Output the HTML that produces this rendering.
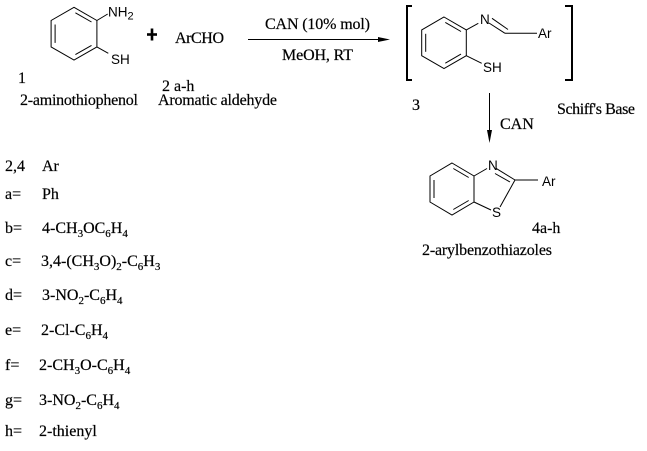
<!DOCTYPE html>
<html><head><meta charset="utf-8"><style>
html,body{margin:0;padding:0;background:#fff;}
svg{display:block;}
.t{font-family:"Liberation Serif",serif;font-size:16px;fill:#000;stroke:#000;stroke-width:0.2;}
.a{font-family:"Liberation Sans",sans-serif;font-size:13.5px;fill:#000;}
.s{font-size:11px;}
</style></head><body>
<svg width="647" height="451" viewBox="0 0 647 451" xmlns="http://www.w3.org/2000/svg">
<g stroke="#000" stroke-width="1" fill="none">
<!-- Ring A -->
<polygon points="74,7.3 96.9,20.5 96.9,46.9 74,60.1 51.1,46.9 51.1,20.5"/>
<line x1="55.1" y1="42.9" x2="55.1" y2="24.5"/>
<line x1="75.4" y1="12.8" x2="91.5" y2="22"/>
<line x1="91.5" y1="45.4" x2="75.4" y2="54.6"/>
<line x1="96.9" y1="20.5" x2="107.7" y2="14"/>
<line x1="96.9" y1="46.9" x2="108.3" y2="53.3"/>
<!-- Arrow 1 -->
<line x1="248" y1="39.5" x2="380" y2="39.5"/>
<!-- Brackets -->
<path d="M412,6 H407 V80 H412" stroke-width="2"/>
<path d="M565,6 H572 V80 H565" stroke-width="2"/>
<!-- Ring B -->
<polygon points="444,17 466.3,29.9 466.3,55.7 444,68.6 421.7,55.7 421.7,29.9"/>
<line x1="425.7" y1="51.8" x2="425.7" y2="33.8"/>
<line x1="445.3" y1="22.4" x2="461" y2="31.5"/>
<line x1="461" y1="54.1" x2="445.3" y2="63.2"/>
<line x1="466.3" y1="29.9" x2="478.3" y2="23.3"/>
<line x1="466.3" y1="55.7" x2="481.7" y2="63.3"/>
<line x1="489" y1="23" x2="505" y2="33.3"/>
<line x1="492" y1="18.3" x2="508" y2="29.5"/>
<line x1="505" y1="33.3" x2="537" y2="33.3"/>
<!-- Arrow 2 -->
<line x1="489.5" y1="93" x2="489.5" y2="133"/>
<!-- Ring C -->
<polygon points="452,163 474,176 474,202 452,215 430,202 430,176"/>
<line x1="434" y1="198" x2="434" y2="180"/>
<line x1="453.3" y1="168.5" x2="468.7" y2="177.5"/>
<line x1="468.7" y1="200.5" x2="453.3" y2="209.5"/>
<line x1="474" y1="176" x2="487" y2="168.5"/>
<line x1="496" y1="168.3" x2="515" y2="180"/>
<line x1="495" y1="173.5" x2="510" y2="182"/>
<line x1="515" y1="180" x2="538" y2="180"/>
<line x1="515" y1="180" x2="500" y2="207"/>
<line x1="474" y1="202" x2="491" y2="210"/>
</g>
<polygon points="390,39.5 378,37 378,42" fill="#000"/>
<polygon points="489.5,143 487,130 492,130" fill="#000"/>
<!-- plus -->
<rect x="147" y="33.2" width="10" height="2.6" fill="#000"/>
<rect x="150.7" y="28.5" width="2.6" height="12" fill="#000"/>

<!-- atom labels -->
<text class="a" x="108" y="16.5">NH<tspan class="s" dy="3">2</tspan></text>
<text class="a" x="111" y="64">SH</text>
<text class="a" x="480" y="24">N</text>
<text class="a" x="538" y="38">Ar</text>
<text class="a" x="483" y="72">SH</text>
<text class="a" x="488" y="170">N</text>
<text class="a" x="542" y="186">Ar</text>
<text class="a" x="492" y="217">S</text>

<!-- labels -->
<text class="t" x="265" y="29" textLength="105" lengthAdjust="spacing">CAN (10% mol)</text>
<text class="t" x="282" y="60" textLength="71" lengthAdjust="spacing">MeOH, RT</text>
<text class="t" x="175" y="43" textLength="49" lengthAdjust="spacing">ArCHO</text>
<text class="t" x="18" y="83">1</text>
<text class="t" x="162" y="91">2 a-h</text>
<text class="t" x="20" y="105" textLength="118" lengthAdjust="spacing">2-aminothiophenol</text>
<text class="t" x="158" y="105" textLength="119" lengthAdjust="spacing">Aromatic aldehyde</text>
<text class="t" x="412" y="110">3</text>
<text class="t" x="500" y="129">CAN</text>
<text class="t" x="557" y="114" textLength="78" lengthAdjust="spacing">Schiff's Base</text>
<text class="t" x="532" y="233">4a-h</text>
<text class="t" x="422" y="255" textLength="130" lengthAdjust="spacing">2-arylbenzothiazoles</text>

<!-- list -->
<text class="t" x="5" y="171">2,4</text>
<text class="t" x="42" y="171">Ar</text>
<text class="t" x="5" y="199">a=</text>
<text class="t" x="42" y="199">Ph</text>
<text class="t" x="5" y="233">b=</text>
<text class="t" x="42" y="233">4-CH<tspan class="s" dy="4">3</tspan><tspan dy="-4">OC</tspan><tspan class="s" dy="4">6</tspan><tspan dy="-4">H</tspan><tspan class="s" dy="4">4</tspan></text>
<text class="t" x="5" y="266">c=</text>
<text class="t" x="41" y="266">3,4-(CH<tspan class="s" dy="4">3</tspan><tspan dy="-4">O)</tspan><tspan class="s" dy="4">2</tspan><tspan dy="-4">-C</tspan><tspan class="s" dy="4">6</tspan><tspan dy="-4">H</tspan><tspan class="s" dy="4">3</tspan></text>
<text class="t" x="5" y="300">d=</text>
<text class="t" x="42" y="300">3-NO<tspan class="s" dy="4">2</tspan><tspan dy="-4">-C</tspan><tspan class="s" dy="4">6</tspan><tspan dy="-4">H</tspan><tspan class="s" dy="4">4</tspan></text>
<text class="t" x="5" y="335">e=</text>
<text class="t" x="41" y="335">2-Cl-C<tspan class="s" dy="4">6</tspan><tspan dy="-4">H</tspan><tspan class="s" dy="4">4</tspan></text>
<text class="t" x="5" y="370">f=</text>
<text class="t" x="39" y="370">2-CH<tspan class="s" dy="4">3</tspan><tspan dy="-4">O-C</tspan><tspan class="s" dy="4">6</tspan><tspan dy="-4">H</tspan><tspan class="s" dy="4">4</tspan></text>
<text class="t" x="5" y="405">g=</text>
<text class="t" x="39" y="405">3-NO<tspan class="s" dy="4">2</tspan><tspan dy="-4">-C</tspan><tspan class="s" dy="4">6</tspan><tspan dy="-4">H</tspan><tspan class="s" dy="4">4</tspan></text>
<text class="t" x="5" y="436">h=</text>
<text class="t" x="39" y="436">2-thienyl</text>
</svg>
</body></html>
